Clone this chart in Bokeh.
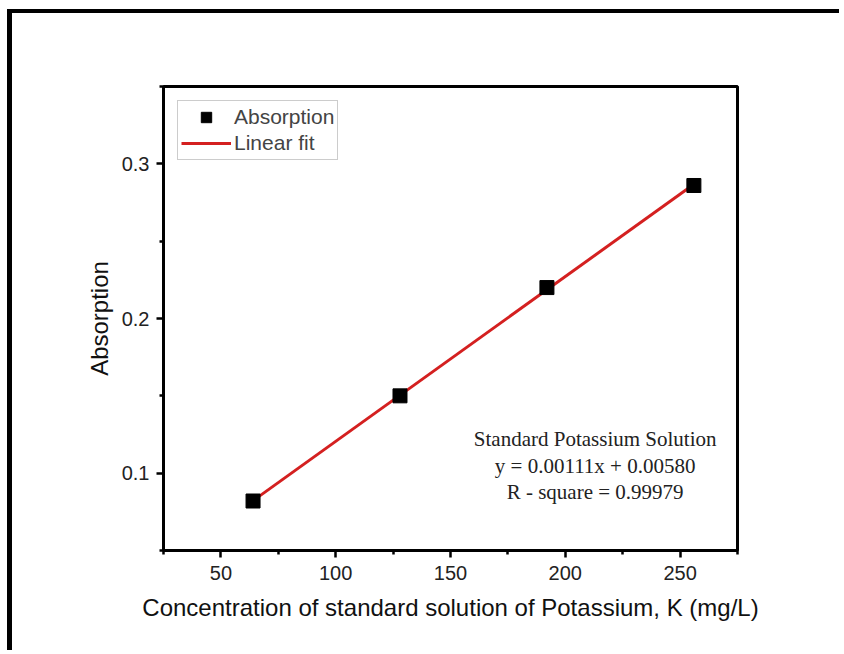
from bokeh.plotting import figure
from bokeh.models import Range1d, Label, Legend, LegendItem, FixedTicker
from bokeh.embed import file_html
from bokeh.resources import INLINE

# Data
concentration = [64, 128, 192, 256]
absorption = [0.082, 0.150, 0.220, 0.286]
fit_x = [64, 256]
fit_y = [0.0822, 0.2868]
x_ticks = [50, 100, 150, 200, 250]
y_ticks = [0.1, 0.2, 0.3]
annotation_lines = ["Standard Potassium Solution",
                    "y = 0.00111x + 0.00580",
                    "R - square = 0.99979"]

p = figure(width=832, height=641, output_backend="svg", toolbar_location=None,
           x_range=Range1d(25, 275), y_range=Range1d(0.05, 0.35),
           min_border_left=151, min_border_top=73, min_border_right=107,
           min_border_bottom=104)
p.styles = {"margin-left": "7px", "margin-top": "9px",
            "border-left": "5px solid black", "border-top": "4px solid black"}

p.grid.visible = False
p.outline_line_color = "black"
p.outline_line_width = 3
p.outline_line_alpha = 1.0

for ax in (p.xaxis[0], p.yaxis[0]):
    ax.axis_line_width = 3
    ax.axis_line_color = "black"
    ax.major_tick_line_width = 2.5
    ax.minor_tick_line_width = 2.5
    ax.major_tick_out = 7
    ax.major_tick_in = 0
    ax.minor_tick_out = 4
    ax.minor_tick_in = 0
    ax.major_label_text_font = "Liberation Sans"
    ax.major_label_text_font_size = "20px"
    ax.major_label_text_color = "#222222"
    ax.axis_label_text_font = "Liberation Sans"
    ax.axis_label_text_font_size = "24px"
    ax.axis_label_text_font_style = "normal"
    ax.axis_label_text_color = "#111111"

p.xaxis[0].ticker = FixedTicker(ticks=x_ticks, minor_ticks=[25, 75, 125, 175, 225, 275])
p.yaxis[0].ticker = FixedTicker(ticks=y_ticks, minor_ticks=[0.05, 0.15, 0.25, 0.35])
p.xaxis[0].major_label_standoff = 8
p.yaxis[0].major_label_standoff = 7
p.xaxis[0].axis_label = "Concentration of standard solution of Potassium, K (mg/L)"
p.yaxis[0].axis_label = "Absorption"
p.xaxis[0].axis_label_standoff = 11
p.yaxis[0].axis_label_standoff = 6

line_r = p.line(fit_x, fit_y, line_color="#d42020", line_width=3)
sq_r = p.scatter(concentration, absorption, marker="square", size=14,
                 fill_color="black", line_color="black")

legend = Legend(items=[LegendItem(label="Absorption", renderers=[sq_r]),
                       LegendItem(label="Linear fit", renderers=[line_r])],
                location="top_left")
legend.margin = 14
legend.padding = 3
legend.spacing = 0
legend.glyph_width = 50
legend.glyph_height = 26
legend.label_standoff = 3
legend.label_text_font = "Liberation Sans"
legend.label_text_font_size = "21px"
legend.label_height = 26
legend.border_line_color = "#999999"
legend.border_line_width = 1
legend.background_fill_alpha = 1.0
p.add_layout(legend)

ys = [0.122, 0.1045, 0.088]
for txt, yy in zip(annotation_lines, ys):
    p.add_layout(Label(x=213, y=yy, text=txt, text_align="center",
                       text_baseline="middle", text_font="Liberation Serif",
                       text_font_size="21px", text_color="#222222"))

open("out.html", "w").write(file_html(p, INLINE))
